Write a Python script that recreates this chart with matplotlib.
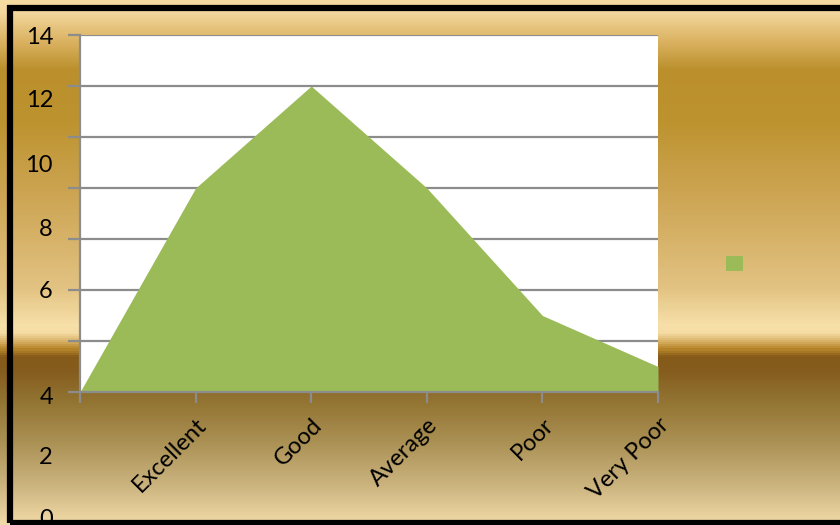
import matplotlib
matplotlib.use('Agg')
import matplotlib.pyplot as plt
import numpy as np
from matplotlib.colors import LinearSegmentedColormap
from matplotlib.patches import Patch, Rectangle

categories = ['', 'Excellent', 'Good', 'Average', 'Poor', 'Very Poor']
values = [0, 8, 12, 8, 3, 1]
y_labels = ['14', '12', '10', '8', '6', '4', '2', '0']
# where the (misplaced) value labels sit, in figure pixels from the top
y_label_px = [38, 101, 165, 229, 292, 398, 457, 520]

green = '#9bbb59'
grid_c = '#8c8c8c'
plt.rcParams['font.family'] = ['Lato', 'DejaVu Sans']

fig = plt.figure(figsize=(8.4, 5.25), dpi=100)

# gold gradient background
stops = [(0.00, '#f5dba2'), (0.02, '#f3d89e'), (0.08, '#d9b05e'), (0.13, '#bb902c'),
         (0.23, '#bd932f'), (0.40, '#d0a95a'), (0.55, '#e3c383'), (0.62, '#f7e0a9'),
         (0.635, '#f5dca4'), (0.65, '#dcb66c'), (0.665, '#b8872c'), (0.68, '#855a19'),
         (0.71, '#865d1e'), (0.76, '#917230'), (0.84, '#a98f52'), (0.92, '#c9b17c'),
         (1.00, '#f0d9a6')]
cmap = LinearSegmentedColormap.from_list('gold', stops)
bg = fig.add_axes([0, 0, 1, 1], zorder=-10)
bg.imshow(np.linspace(0, 1, 525).reshape(-1, 1), aspect='auto', cmap=cmap,
          extent=[0, 1, 0, 1], origin='upper')
bg.set_axis_off()

# black frame
fig.patches.append(Rectangle((0.0115, 0.003), 1.2, 0.982, transform=fig.transFigure,
                             fill=False, edgecolor='black', linewidth=4.5, zorder=50))

ax = fig.add_axes([80 / 840, 1 - 392 / 525, 578 / 840, 357 / 525])
ax.set_facecolor('white')
x = np.arange(len(categories))
ax.fill_between(x, values, 0, color=green, linewidth=0, zorder=2)
ax.set_xlim(0, len(categories) - 1)
ax.set_ylim(0, 14)
ax.set_yticks(range(0, 15, 2))
ax.set_yticklabels([])
ax.yaxis.grid(True, color=grid_c, linewidth=1.6)
ax.set_axisbelow(True)
ax.set_xticks(x)
ax.set_xticklabels(categories, rotation=45, ha='right', va='top',
                   rotation_mode='anchor', fontsize=17)
ax.tick_params(axis='x', length=8, width=1.6, color=grid_c, pad=8)
ax.tick_params(axis='y', length=9, width=1.6, color=grid_c)
for s in ['top', 'right']:
    ax.spines[s].set_visible(False)
for s in ['left', 'bottom']:
    ax.spines[s].set_color(grid_c)
    ax.spines[s].set_linewidth(1.6)
ax.spines['bottom'].set_zorder(3)

for lab, py in zip(y_labels, y_label_px):
    fig.text(53 / 840, 1 - py / 525, lab, ha='right', va='center', fontsize=17)

fig.legend(handles=[Patch(facecolor=green, edgecolor='none')], labels=[''],
           loc='center left', bbox_to_anchor=(718 / 840, 1 - 264 / 525),
           frameon=False, handlelength=1.0, handleheight=1.0, fontsize=12,
           borderpad=0, handletextpad=0)

fig.savefig('out.png', dpi=100)
